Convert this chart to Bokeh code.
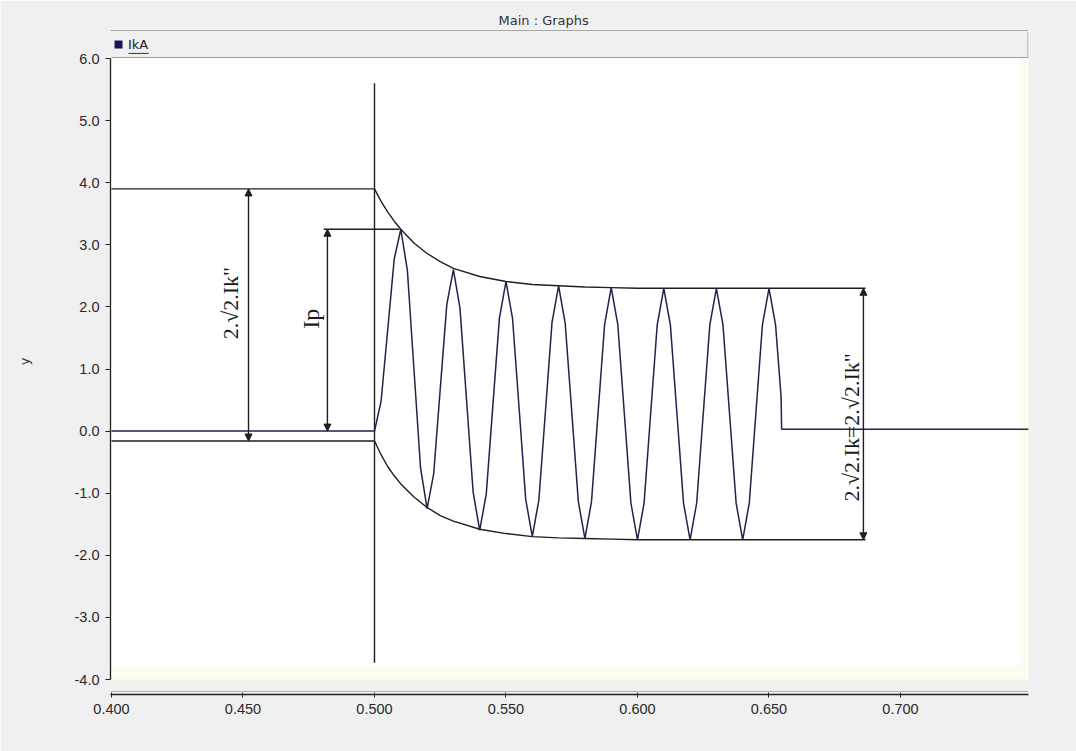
import math
from bokeh.plotting import figure
from bokeh.models import (ColumnDataSource, Range1d, FixedTicker, NumeralTickFormatter,
                          Arrow, NormalHead, Legend, LegendItem, BoxAnnotation)
from bokeh.core.properties import value
from bokeh.embed import file_html
from bokeh.resources import INLINE

# ---------------- data ----------------
wave_t = [0.400, 0.5000, 0.5025, 0.5050, 0.5075, 0.5100, 0.5125, 0.5150, 0.5175, 0.5200,
          0.5225, 0.5250, 0.5275, 0.5300, 0.5325, 0.5350, 0.5375, 0.5400,
          0.5425, 0.5450, 0.5475, 0.5500, 0.5525, 0.5550, 0.5575, 0.5600,
          0.5625, 0.5650, 0.5675, 0.5700, 0.5725, 0.5750, 0.5775, 0.5800,
          0.5825, 0.5850, 0.5875, 0.5900, 0.5925, 0.5950, 0.5975, 0.6000,
          0.6025, 0.6050, 0.6075, 0.6100, 0.6125, 0.6150, 0.6175, 0.6200,
          0.6225, 0.6250, 0.6275, 0.6300, 0.6325, 0.6350, 0.6375, 0.6400,
          0.6425, 0.6450, 0.6475, 0.6500, 0.6525, 0.6546, 0.6548, 0.7487]
wave_y = [0.00, 0.00, 0.48, 1.62, 2.77, 3.25, 2.59, 1.00, -0.59, -1.25,
          -0.69, 0.68, 2.04, 2.60, 1.98, 0.50, -0.98, -1.60,
          -1.01, 0.41, 1.82, 2.41, 1.81, 0.36, -1.10, -1.70,
          -1.11, 0.32, 1.75, 2.34, 1.74, 0.31, -1.13, -1.73,
          -1.14, 0.29, 1.72, 2.31, 1.72, 0.28, -1.16, -1.75,
          -1.16, 0.28, 1.71, 2.30, 1.71, 0.28, -1.16, -1.75,
          -1.16, 0.28, 1.71, 2.30, 1.71, 0.28, -1.16, -1.75,
          -1.16, 0.28, 1.71, 2.30, 1.71, 0.55, 0.03, 0.03]

env_t = [0.500, 0.5025, 0.505, 0.5075, 0.510, 0.515, 0.520, 0.525, 0.530,
         0.540, 0.550, 0.560, 0.570, 0.580, 0.590, 0.600, 0.6867]
env_up = [3.90, 3.70, 3.53, 3.38, 3.25, 3.03, 2.86, 2.73, 2.62,
          2.49, 2.41, 2.36, 2.34, 2.32, 2.31, 2.30, 2.30]
env_lo = [-0.16, -0.38, -0.57, -0.72, -0.85, -1.06, -1.23, -1.36, -1.45,
          -1.58, -1.65, -1.70, -1.72, -1.73, -1.74, -1.75, -1.75]

# horizontal reference levels on the left
lvl_t0 = [0.400, 0.4807, 0.400]
lvl_t1 = [0.500, 0.5095, 0.500]
lvl_y = [3.90, 3.25, -0.16]

# vertical fault-instant line
fault_t = [0.500]
fault_bottom = [-3.73]
fault_top = [5.60]

# dimension arrows
arrow_t = [0.4521, 0.4821, 0.6859]
arrow_top = [3.90, 3.25, 2.30]
arrow_bottom = [-0.16, 0.00, -1.75]

# annotation texts
label_text = ['2.\u221a2.Ik"', 'Ip', '2.\u221a2.Ik=2.\u221a2.Ik"']
label_t = [0.44525, 0.4757, 0.6812]
label_y = [2.06, 1.81, 0.06]
label_size = ["22px", "24px", "22px"]

x_ticks = [0.40, 0.45, 0.50, 0.55, 0.60, 0.65, 0.70]
y_ticks = [-4.0, -3.0, -2.0, -1.0, 0.0, 1.0, 2.0, 3.0, 4.0, 5.0, 6.0]
series_name = "IkA"
title_text = "Main : Graphs"

# ---------------- figure ----------------
GRAY = "#f0f0f0"
NAVY = "#161655"
INK = "#1e1e1e"

p = figure(width=1076, height=751, output_backend="svg", toolbar_location=None,
           x_range=Range1d(0.39962, 0.74867), y_range=Range1d(-4.2415, 6.4831),
           min_border_left=110, min_border_right=48, min_border_top=28, min_border_bottom=57,
           background_fill_color=GRAY, border_fill_color=GRAY, outline_line_color=None)
p.grid.visible = False

p.title.text = title_text
p.title.align = "left"
p.title.offset = 388
p.title.standoff = 2
p.title.text_font = "DejaVu Sans"
p.title.text_font_size = "13px"
p.title.text_font_style = "normal"
p.title.text_color = "#333333"

# plot area (cream shadow + white)
p.quad(left=[0.400], right=[0.74867], bottom=[-4.0], top=[6.0],
       fill_color="#fefcee", line_color=None)
p.quad(left=[0.400], right=[0.7457], bottom=[-3.775], top=[6.0],
       fill_color="white", line_color=None)

# window chrome lines (screen units, relative to the plot frame)
def chrome_box(l, r, b, t, color):
    p.add_layout(BoxAnnotation(left=l, right=r, bottom=b, top=t,
                               left_units="screen", right_units="screen",
                               bottom_units="screen", top_units="screen",
                               fill_color=color, fill_alpha=1.0,
                               line_color=None, level="underlay"))

chrome_box(0, 918, 663.5, 664.5, "#a8a8a8")   # title-bar separator
chrome_box(0, 918, 2.5, 3.5, "#b4b4b4")       # line above the x axis

p.segment(x0=[0.400, 0.74848], y0=[6.016, 6.016], x1=[0.74867, 0.74848], y1=[6.016, 6.419],
          line_color="#a0a0a0", line_width=1)
# underline of the signal name in the legend bar
p.segment(x0=[0.40646], y0=[6.082], x1=[0.4141], y1=[6.082], line_color="#333333", line_width=1)

# annotation lines
p.segment(x0=lvl_t0, x1=lvl_t1, y0=lvl_y, y1=lvl_y, line_color=INK, line_width=1.4)
p.segment(x0=fault_t, x1=fault_t, y0=fault_bottom, y1=fault_top, line_color=INK, line_width=1.4)
p.line(env_t, env_up, line_color=INK, line_width=1.4)
p.line(env_t, env_lo, line_color=INK, line_width=1.4)

# signal
wave = p.line(wave_t, wave_y, line_color="#22224a", line_width=1.5)
# legend swatch renderer (zero-size markers on the signal, only its legend glyph shows)
sq = p.scatter(wave_t, wave_y, marker="square", size=0, fill_color=NAVY, line_color=None)

# arrows
asrc = ColumnDataSource(dict(t=arrow_t, top=arrow_top, bottom=arrow_bottom))
p.add_layout(Arrow(x_start="t", y_start="top", x_end="t", y_end="bottom", source=asrc,
                   line_color=INK, line_width=1.4,
                   start=NormalHead(size=7, fill_color=INK, line_color=INK, line_width=1),
                   end=NormalHead(size=7, fill_color=INK, line_color=INK, line_width=1)))

# rotated annotation texts
tsrc = ColumnDataSource(dict(x=label_t, y=label_y, text=label_text, size=label_size))
p.text(x="x", y="y", text="text", source=tsrc, angle=math.pi / 2,
       text_align="center", text_baseline="middle",
       text_font=value("Liberation Serif"), text_font_size="size", text_color="#1a1a1a")

# legend
legend = Legend(items=[LegendItem(label=series_name, renderers=[sq])],
                location=(-2, 640), padding=0, margin=0, spacing=0,
                glyph_width=20, glyph_height=20, label_standoff=0,
                label_text_font="DejaVu Sans", label_text_font_size="13px",
                label_text_color="#222222",
                border_line_alpha=0, background_fill_alpha=0)
p.add_layout(legend)

# axes
xa = p.xaxis[0]
xa.ticker = FixedTicker(ticks=x_ticks)
xa.formatter = NumeralTickFormatter(format="0.000")
xa.axis_line_color = "#222222"
xa.axis_line_width = 1.5
xa.major_tick_line_color = "#222222"
xa.major_tick_in = 2
xa.major_tick_out = 3
xa.minor_tick_line_color = None
xa.major_label_standoff = 6
xa.major_label_text_font = "Liberation Sans"
xa.major_label_text_font_size = "14.5px"
xa.major_label_text_color = "#2a2a2a"

ya = p.yaxis[0]
ya.ticker = FixedTicker(ticks=y_ticks)
ya.formatter = NumeralTickFormatter(format="0.0")
ya.bounds = (-4.0, 6.0)
ya.axis_line_color = "#222222"
ya.axis_line_width = 1.3
ya.major_tick_line_color = "#222222"
ya.major_tick_in = 0
ya.major_tick_out = 5
ya.minor_tick_line_color = None
ya.major_label_standoff = 6
ya.major_label_text_font = "Liberation Sans"
ya.major_label_text_font_size = "14.5px"
ya.major_label_text_color = "#2a2a2a"
ya.axis_label = "y"
ya.axis_label_standoff = 40
ya.axis_label_text_font = "DejaVu Sans"
ya.axis_label_text_font_size = "13px"
ya.axis_label_text_font_style = "normal"
ya.axis_label_text_color = "#333333"

open("out.html", "w").write(file_html(p, INLINE))
